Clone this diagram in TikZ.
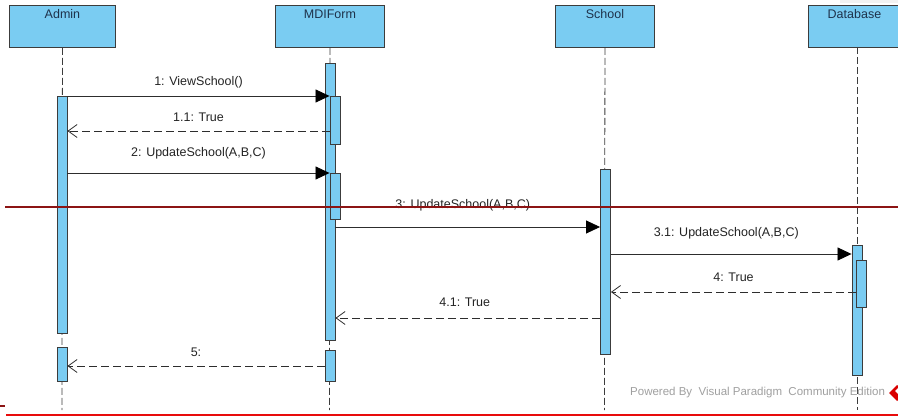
\documentclass[tikz,border=0pt]{standalone}
\usepackage{fontspec}
\setmainfont{Liberation Sans}
\usetikzlibrary{arrows.meta}
\definecolor{vpblue}{RGB}{122,204,242}
\definecolor{vpborder}{RGB}{60,60,60}
\definecolor{msgline}{RGB}{45,45,45}
\definecolor{vptext}{RGB}{30,50,75}
\definecolor{msgtext}{RGB}{35,35,35}
\definecolor{annodark}{RGB}{140,20,20}
\definecolor{annored}{RGB}{232,12,12}
\begin{document}
\begin{tikzpicture}[x=1pt,y=-1pt,
  head/.style={draw=vpborder, fill=vpblue, line width=0.9pt, minimum height=42pt, inner sep=0pt, anchor=north west},
  headtxt/.style={anchor=north, inner sep=0pt, yshift=-4.5pt, text=vptext, font=\fontsize{12.5}{14}\selectfont},
  lifeline/.style={draw=vpborder, line width=0.8pt, dash pattern=on 7pt off 3pt},
  act/.style={draw=vpborder, fill=vpblue, line width=0.9pt, minimum width=10pt, inner sep=0pt, anchor=north},
  call/.style={draw=msgline, line width=0.8pt, -{Triangle[length=14pt,width=13pt,color=black,fill=black]}},
  ret/.style={draw=msgline, line width=0.8pt, dash pattern=on 8pt off 4pt, -{Straight Barb[length=9pt,width=13pt]}},
  lbl/.style={midway, inner sep=0pt, text=msgtext, font=\fontsize{12.5}{14}\selectfont}
]
\clip (0,0) rectangle (898,417);
\fill[gray!10] (840,0) rectangle (898,3);

% lifeline heads
\node[head, minimum width=106pt, label={[headtxt]north:Admin}] (admin) at (9,5) {};
\node[head, minimum width=109pt, label={[headtxt]north:MDIForm}] (mdi) at (275,5) {};
\node[head, minimum width=99pt, label={[headtxt]north:School}] (school) at (555,5) {};
\node[head, minimum width=104pt, label={[headtxt, xshift=-6pt]north:Database}] (db) at (808,5) {};

% lifelines
\coordinate (adminEnd) at (62,410);
\coordinate (mdiEnd) at (329.5,410);
\coordinate (schoolEnd) at (604.5,410);
\coordinate (dbEnd) at (857.5,410);
\draw[lifeline] (admin.south) -- (adminEnd);
\draw[lifeline] (mdi.south) -- (mdiEnd);
\draw[lifeline] (school.south) -- (schoolEnd);
\draw[lifeline] (857.5,47) -- (dbEnd);

% activations
\node[act, minimum height=237pt] (a1) at (62,96) {};
\node[act, minimum height=34pt] (a2) at (62,347) {};
\node[act, minimum height=277pt] (m1) at (330,63) {};
\node[act, minimum height=48pt] (m2) at (335,96) {};
\node[act, minimum height=46pt] (m3) at (335,173) {};
\node[act, minimum height=31pt] (m4) at (330,350) {};
\node[act, minimum height=185pt] (s1) at (605.5,169) {};
\node[act, minimum height=130pt] (d1) at (857,245) {};
\node[act, minimum height=47pt] (d2) at (861.5,260) {};

% messages
\draw[call] (a1.north east) -- (m2.north west) node[lbl, yshift=14pt] {1: ViewSchool()};
\draw[ret] (m2.west |- 0,131) -- (a1.east |- 0,131) node[lbl, yshift=14pt] {1.1: True};
\draw[call] (a1.east |- m3.north) -- (m3.north west) node[lbl, yshift=20pt] {2: UpdateSchool(A,B,C)};
\draw[call] (m1.east |- 0,227) -- (s1.west |- 0,227) node[lbl, yshift=22pt, xshift=-5pt] {3: UpdateSchool(A,B,C)};
\draw[call] (s1.east |- 0,254) -- (d1.west |- 0,254) node[lbl, yshift=21pt, xshift=-5pt] {3.1: UpdateSchool(A,B,C)};
\draw[ret] (d2.west |- 0,292) -- (s1.east |- 0,292) node[lbl, yshift=15pt] {4: True};
\draw[ret] (s1.west |- 0,318) -- (m1.east |- 0,318) node[lbl, yshift=16pt, xshift=-3pt] {4.1: True};
\draw[ret] (m4.west |- 0,366) -- (a2.east |- 0,366) node[lbl, yshift=14pt] {5:};

% watermark
\node[anchor=west, inner sep=0pt, text=gray!75, font=\fontsize{11.5}{13}\selectfont] (wm) at (630,393) {Powered By\ \ Visual Paradigm\ \ Community Edition};
\fill[red!85!black] (889,393) -- (897,385) -- (905,393) -- (897,401) -- cycle;
\fill[white] (895,391) -- (899,387) -- (903,391) -- (899,395) -- cycle;

% annotation lines
\draw[annodark, line width=1.6pt] (5,207) -- (898,207);
\draw[annodark, line width=1.8pt] (0,406) -- (5,406);
\draw[annored, line width=2pt] (6,415) -- (898,415);
\end{tikzpicture}
\end{document}
